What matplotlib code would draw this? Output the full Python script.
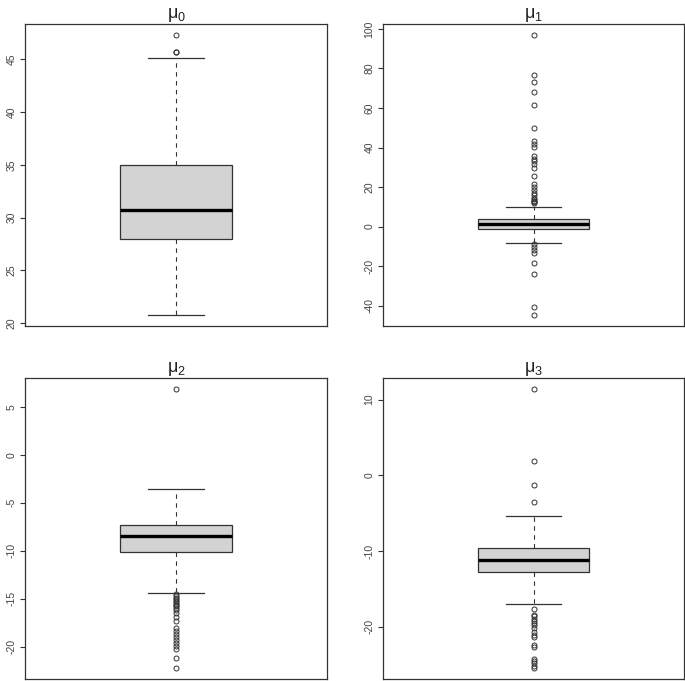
import matplotlib
matplotlib.use("Agg")
import matplotlib.pyplot as plt

plt.rcParams['font.family'] = ['Liberation Sans', 'DejaVu Sans']
plt.rcParams['axes.unicode_minus'] = False
plt.rcParams['mathtext.fontset'] = 'custom'
plt.rcParams['mathtext.rm'] = 'Liberation Sans'
plt.rcParams['mathtext.it'] = 'Liberation Sans'

titles = [r'$\mu_0$', r'$\mu_1$', r'$\mu_2$', r'$\mu_3$']

# five-number summaries: whislo, q1, med, q3, whishi
mu0_stats = [20.8, 27.96, 30.72, 35.0, 45.09]
mu1_stats = [-8.1, -1.27, 1.1, 3.66, 9.9]
mu2_stats = [-14.35, -10.18, -8.44, -7.36, -3.6]
mu3_stats = [-16.95, -12.75, -11.12, -9.63, -5.32]

mu0_out = [47.28, 45.73, 45.65]
mu1_out = [96.8, 76.8, 72.9, 68.3, 61.6, 49.7, 43.5, 42.0, 40.5, 35.5, 34.3,
           33.0, 31.6, 29.5, 25.5, 21.5, 20.0, 18.6, 17.2, 15.8, 14.6, 13.8,
           13.2, 12.7, 12.3, 11.9, -9.0, -10.4, -11.7, -13.1, -18.3, -23.9,
           -40.9, -44.6]
mu2_out = [6.84, -14.5, -14.7, -14.9, -15.0, -15.2, -15.3, -15.5, -15.6, -15.8,
           -16.0, -16.2, -16.5, -16.9, -17.3, -18.0, -18.4, -18.7, -19.0, -19.3,
           -19.6, -19.9, -20.2, -21.2, -22.2]
mu3_out = [11.38, 1.88, -1.33, -3.48, -17.6, -18.4, -18.6, -18.9, -19.2, -19.5,
           -19.8, -20.2, -20.7, -21.0, -21.3, -22.4, -22.7, -24.2, -24.5, -24.8,
           -25.1, -25.4]

yticks = [[20, 25, 30, 35, 40, 45],
          [-40, -20, 0, 20, 40, 60, 80, 100],
          [-20, -15, -10, -5, 0, 5],
          [-20, -10, 0, 10]]

all_stats = [mu0_stats, mu1_stats, mu2_stats, mu3_stats]
all_out = [mu0_out, mu1_out, mu2_out, mu3_out]

W, H = 685, 681
fig = plt.figure(figsize=(W / 100, H / 100), dpi=100)
boxes_px = [(25, 24, 327, 326), (383, 24, 684, 326),
            (25, 378, 327, 679), (383, 378, 684, 679)]

edge = '#333333'
for i in range(4):
    x0, y0, x1, y1 = boxes_px[i]
    ax = fig.add_axes([x0 / W, 1 - y1 / H, (x1 - x0) / W, (y1 - y0) / H])
    s = all_stats[i]
    st = dict(whislo=s[0], q1=s[1], med=s[2], q3=s[3], whishi=s[4],
              fliers=all_out[i], label='')
    ax.bxp([st], positions=[1], widths=0.4, capwidths=0.2, patch_artist=True,
           showfliers=True,
           boxprops=dict(facecolor='#d3d3d3', edgecolor=edge, linewidth=0.9),
           medianprops=dict(color='black', linewidth=2.4, solid_capstyle='butt'),
           whiskerprops=dict(color=edge, linewidth=0.8, linestyle=(0, (4, 4))),
           capprops=dict(color=edge, linewidth=0.9),
           flierprops=dict(marker='o', markersize=3.6, markerfacecolor='none',
                           markeredgecolor=edge, markeredgewidth=0.7,
                           linestyle='none'))
    vals = [s[0], s[4]] + all_out[i]
    lo, hi = min(vals), max(vals)
    pad = (hi - lo) * 0.04
    ax.set_ylim(lo - pad, hi + pad)
    ax.set_xlim(0.46, 1.54)
    ax.set_xticks([])
    ax.set_yticks(yticks[i])
    ax.set_yticklabels([str(t) for t in yticks[i]], rotation=90, va='center',
                       fontsize=7.5, color='#444444')
    ax.tick_params(axis='y', length=3.6, width=0.8, color=edge, pad=2.5)
    for sp in ax.spines.values():
        sp.set_color(edge)
        sp.set_linewidth(0.9)
    ax.set_title(titles[i], fontsize=13, pad=3, color='#222222')

fig.savefig('out.png', dpi=100)
